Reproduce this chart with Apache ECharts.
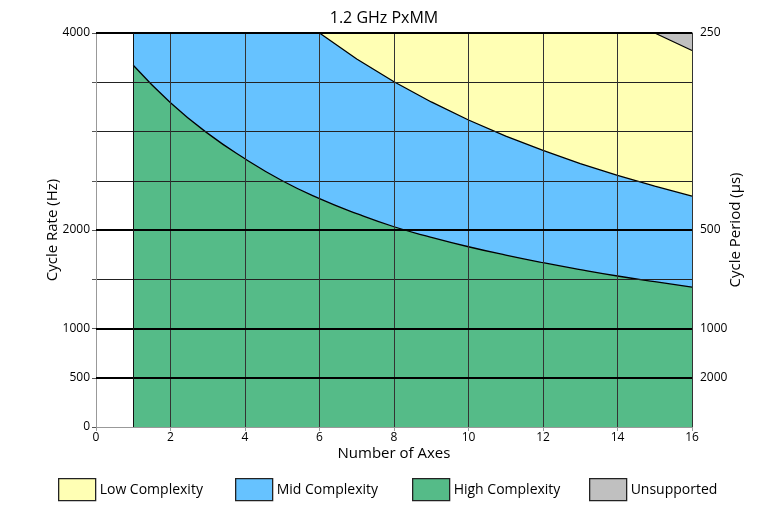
<!DOCTYPE html>
<html>
<head>
<meta charset="utf-8">
<script src="https://cdn.jsdelivr.net/npm/echarts@6/dist/echarts.min.js"></script>
<style>html,body{margin:0;padding:0;background:#fff}#c{width:768px;height:512px}</style>
</head>
<body>
<div id="c"></div>
<script>
var axesCount = [1, 2, 3, 4, 5, 6, 7, 8, 9, 10, 11, 12, 13, 14, 15, 16];
var highRate = [3672, 3292, 2981, 2724, 2500, 2318, 2166, 2033, 1926, 1830, 1745, 1668, 1598, 1533, 1475, 1421];
var midRate = [4000, 4000, 4000, 4000, 4000, 4000, 3736, 3505, 3300, 3117, 2954, 2808, 2675, 2554, 2445, 2343];
var lowRate = [4000, 4000, 4000, 4000, 4000, 4000, 4000, 4000, 4000, 4000, 4000, 4000, 4000, 4000, 4000, 3822];
var unsupportedRate = [null, null, null, null, null, null, null, null, null, null, null, null, null, null, 4000, 4000];
var rateLabels = {0: '0', 500: '500', 1000: '1000', 2000: '2000', 4000: '4000'};
var periodLabels = {500: '2000', 1000: '1000', 2000: '500', 4000: '250'};
var boldRates = [500, 1000, 2000, 4000];
var seriesNames = ['Low Complexity', 'Mid Complexity', 'High Complexity', 'Unsupported'];

function pairs(vals) {
  var out = [];
  for (var i = 0; i < axesCount.length; i++) {
    if (vals[i] !== null) out.push([axesCount[i], vals[i]]);
  }
  return out;
}

var FONT = '"Open Sans", "Noto Sans", sans-serif';
var chart = echarts.init(document.getElementById('c'), null, {renderer: 'canvas'});

function areaSeries(name, vals, color, smooth, extra) {
  var s = {
    name: name,
    type: 'line',
    data: pairs(vals),
    z: 1,
    color: color,
    showSymbol: false,
    symbol: 'none',
    smooth: smooth,
    lineStyle: {color: '#000', width: 1.3},
    areaStyle: {color: color, opacity: 1, origin: 'start'},
    emphasis: {disabled: true},
    animation: false
  };
  if (extra) for (var k in extra) s[k] = extra[k];
  return s;
}

var legendLefts = [58, 235, 412, 589];
var legends = seriesNames.map(function (n, i) {
  return {
    data: [n],
    left: legendLefts[i],
    top: 478,
    padding: 0,
    icon: 'rect',
    itemWidth: 37,
    itemHeight: 22,
    itemStyle: {borderColor: '#222', borderWidth: 1.3},
    textStyle: {fontSize: 14, color: '#000', fontFamily: FONT, padding: [0, 0, 0, -1]},
    selectedMode: false
  };
});

var lineMarks = boldRates.map(function (r) {
  return {yAxis: r, lineStyle: {color: '#000', width: 2, type: 'solid'}};
}).concat([{xAxis: 1, lineStyle: {color: '#111', width: 1, type: 'solid'}}]);

var option = {
  animation: false,
  textStyle: {fontFamily: FONT},
  title: {
    text: '1.2 GHz PxMM',
    left: 'center',
    top: 5,
    textStyle: {fontSize: 16, fontWeight: 'normal', color: '#000', fontFamily: FONT}
  },
  legend: legends,
  grid: {left: 96, right: 76, top: 33, bottom: 85, containLabel: false},
  xAxis: {
    type: 'value',
    z: 3,
    min: 0,
    max: 16,
    interval: 2,
    name: 'Number of Axes',
    nameLocation: 'middle',
    nameMoveOverlap: false,
    nameGap: 19,
    nameTextStyle: {fontSize: 15, color: '#000', fontFamily: FONT},
    axisLine: {show: true, lineStyle: {color: '#999', width: 1}},
    axisTick: {show: true, length: 4, lineStyle: {color: '#999'}},
    axisLabel: {fontSize: 12, color: '#000', margin: 5, fontFamily: FONT},
    splitLine: {show: true, lineStyle: {color: '#333', width: 1}}
  },
  yAxis: [{
    type: 'value',
    z: 3,
    position: 'left',
    min: 0,
    max: 4000,
    interval: 500,
    name: 'Cycle Rate (Hz)',
    nameLocation: 'middle',
    nameMoveOverlap: false,
    nameRotate: 90,
    nameGap: 36,
    nameTextStyle: {fontSize: 15, color: '#000', fontFamily: FONT},
    axisLine: {show: true, lineStyle: {color: '#999', width: 1}},
    axisTick: {show: true, length: 4, lineStyle: {color: '#555'}},
    axisLabel: {
      fontSize: 12, color: '#000', margin: 6, fontFamily: FONT,
      formatter: function (v) { return rateLabels[v] !== undefined ? rateLabels[v] : ''; }
    },
    splitLine: {show: true, lineStyle: {color: '#222', width: 1}}
  }, {
    type: 'value',
    z: 3,
    position: 'right',
    min: 0,
    max: 4000,
    interval: 500,
    name: 'Cycle Period (µs)',
    nameLocation: 'middle',
    nameMoveOverlap: false,
    nameRotate: 90,
    nameGap: 36,
    nameTextStyle: {fontSize: 15, color: '#000', fontFamily: FONT},
    axisLine: {show: true, lineStyle: {color: '#333', width: 1}},
    axisTick: {show: false},
    axisLabel: {
      fontSize: 12, color: '#000', margin: 8, fontFamily: FONT,
      formatter: function (v) { return periodLabels[v] !== undefined ? periodLabels[v] : ''; }
    },
    splitLine: {show: false}
  }],
  series: [
    areaSeries('Unsupported', unsupportedRate, '#C0C0C0', false),
    areaSeries('Low Complexity', lowRate, '#FFFFB4', false),
    areaSeries('Mid Complexity', midRate, '#66C2FF', false),
    areaSeries('High Complexity', highRate, '#55BB88', true, {
      markLine: {
        silent: true,
        z: 6,
        symbol: ['none', 'none'],
        animation: false,
        label: {show: false},
        emphasis: {disabled: true},
        data: lineMarks
      }
    })
  ]
};
chart.setOption(option);
</script>
</body>
</html>
